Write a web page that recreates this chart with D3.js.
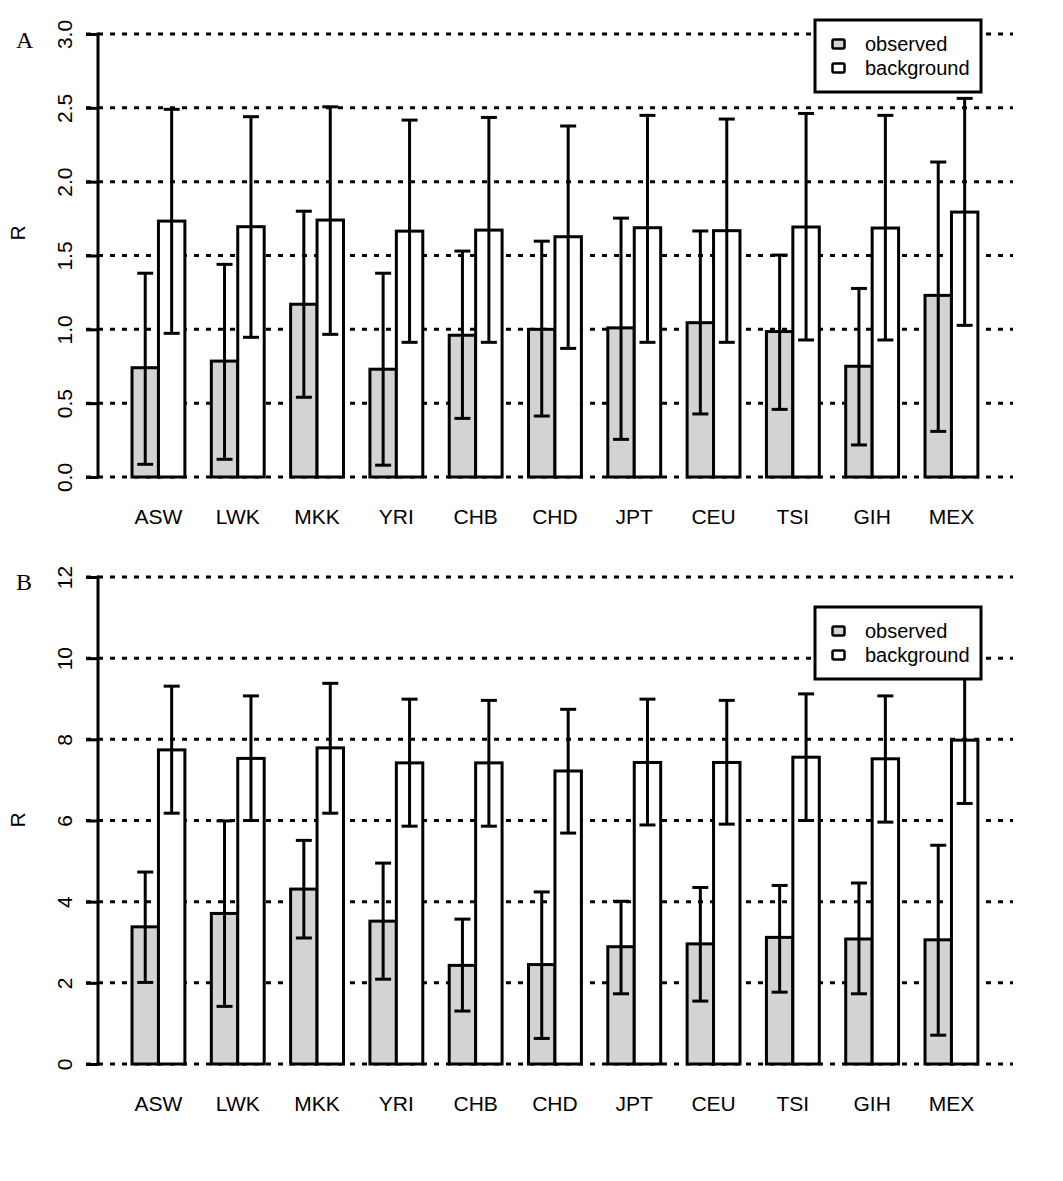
<!DOCTYPE html>
<html>
<head>
<meta charset="utf-8">
<script src="https://cdn.jsdelivr.net/npm/d3@7"></script>
<style>
  body { margin: 0; background: #fff; }
</style>
</head>
<body>
<div id="chart"></div>
<script>
var populations = ["ASW","LWK","MKK","YRI","CHB","CHD","JPT","CEU","TSI","GIH","MEX"];
var series = ["observed","background"];
var seriesFill = ["#d3d3d3","#ffffff"];

// panel A
var obsA   = [0.74, 0.785, 1.17, 0.73, 0.96, 1.00, 1.01, 1.045, 0.985, 0.75, 1.23];
var obsALo = [0.086, 0.12, 0.54, 0.08, 0.397, 0.413, 0.255, 0.427, 0.458, 0.217, 0.309];
var obsAHi = [1.38, 1.44, 1.80, 1.38, 1.53, 1.597, 1.753, 1.666, 1.503, 1.277, 2.133];
var bgA    = [1.733, 1.695, 1.74, 1.665, 1.672, 1.627, 1.688, 1.668, 1.693, 1.686, 1.794];
var bgALo  = [0.973, 0.946, 0.966, 0.912, 0.912, 0.871, 0.912, 0.912, 0.928, 0.928, 1.027];
var bgAHi  = [2.49, 2.44, 2.507, 2.417, 2.435, 2.377, 2.449, 2.424, 2.462, 2.449, 2.564];
var ticksA = [0, 0.5, 1.0, 1.5, 2.0, 2.5, 3.0];

// panel B
var obsB   = [3.38, 3.71, 4.31, 3.52, 2.43, 2.45, 2.89, 2.96, 3.12, 3.08, 3.06];
var obsBLo = [2.01, 1.42, 3.105, 2.09, 1.305, 0.63, 1.73, 1.55, 1.77, 1.73, 0.71];
var obsBHi = [4.73, 5.99, 5.51, 4.95, 3.57, 4.24, 4.01, 4.35, 4.40, 4.46, 5.39];
var bgB    = [7.74, 7.53, 7.79, 7.42, 7.42, 7.22, 7.43, 7.43, 7.56, 7.52, 7.98];
var bgBLo  = [6.18, 6.00, 6.18, 5.86, 5.86, 5.69, 5.89, 5.91, 6.00, 5.96, 6.42];
var bgBHi  = [9.31, 9.07, 9.38, 8.99, 8.96, 8.74, 8.99, 8.96, 9.12, 9.07, 9.6];
var ticksB = [0, 2, 4, 6, 8, 10, 12];

var W = 1063, H = 1181;
var lw = 3;
var capHalf = 8;
var sans = "Liberation Sans, Arial, sans-serif";

var svg = d3.select("#chart").append("svg")
  .attr("width", W).attr("height", H)
  .attr("font-family", sans);
svg.append("rect").attr("width", W).attr("height", H).attr("fill", "#fff");

var x = d3.scaleBand()
  .domain(populations)
  .range([118.8, 991.1])
  .paddingInner(1/3)
  .paddingOuter(1/6);
var xs = d3.scaleBand().domain(series).range([0, x.bandwidth()]);

function drawPanel(p) {
  var y = d3.scaleLinear().domain([0, p.max]).range([p.bottom, p.top]);
  var g = svg.append("g");

  // dotted grid
  g.selectAll(".grid").data(p.ticks).enter().append("line")
    .attr("x1", 86).attr("x2", 1013)
    .attr("y1", d => y(d)).attr("y2", d => y(d))
    .attr("stroke", "#000").attr("stroke-width", lw)
    .attr("stroke-dasharray", "5,7");

  // axis
  var axis = d3.axisLeft(y).tickValues(p.ticks).tickSize(12).tickFormat(p.fmt);
  var ag = g.append("g").attr("transform", "translate(98,0)").call(axis);
  ag.attr("font-family", sans).attr("font-size", 21);
  ag.select(".domain").attr("d", "M0," + y(0) + "V" + y(p.max))
    .attr("stroke-width", lw).attr("stroke-linecap", "square");
  ag.selectAll(".tick line").attr("stroke-width", lw);
  ag.selectAll(".tick text")
    .attr("x", null).attr("dy", null)
    .attr("transform", "translate(-26,0) rotate(-90)")
    .attr("text-anchor", "middle")
    .attr("fill", "#000");

  // bars
  var rows = populations.map((c, i) => ({
    pop: c,
    vals: [
      {s: "observed", v: p.obs[i], lo: p.obsLo[i], hi: p.obsHi[i]},
      {s: "background", v: p.bg[i], lo: p.bgLo[i], hi: p.bgHi[i]}
    ]
  }));
  var grp = g.selectAll(".grp").data(rows).enter().append("g")
    .attr("transform", d => "translate(" + x(d.pop) + ",0)");
  grp.selectAll("rect").data(d => d.vals).enter().append("rect")
    .attr("x", d => xs(d.s))
    .attr("width", xs.bandwidth())
    .attr("y", d => y(d.v))
    .attr("height", d => y(0) - y(d.v))
    .attr("fill", d => seriesFill[series.indexOf(d.s)])
    .attr("stroke", "#000").attr("stroke-width", lw);

  // error bars
  var eb = grp.selectAll(".eb").data(d => d.vals).enter().append("g")
    .attr("transform", d => "translate(" + (xs(d.s) + xs.bandwidth() / 2) + ",0)")
    .attr("stroke", "#000").attr("stroke-width", lw);
  eb.append("line").attr("y1", d => y(d.lo)).attr("y2", d => y(d.hi));
  eb.append("line").attr("x1", -capHalf).attr("x2", capHalf)
    .attr("y1", d => y(d.lo)).attr("y2", d => y(d.lo));
  eb.append("line").attr("x1", -capHalf).attr("x2", capHalf)
    .attr("y1", d => y(d.hi)).attr("y2", d => y(d.hi));

  // category labels
  g.selectAll(".cat").data(populations).enter().append("text")
    .attr("x", d => x(d) + x.bandwidth() / 2)
    .attr("y", p.bottom + 47)
    .attr("text-anchor", "middle")
    .attr("font-size", 21)
    .text(d => d);

  // y label and panel letter
  g.append("text")
    .attr("transform", "translate(25," + p.rY + ") rotate(-90)")
    .attr("text-anchor", "middle").attr("font-size", 21).text("R");
  g.append("text")
    .attr("x", 16).attr("y", p.top + p.letterDy)
    .attr("font-family", "Liberation Serif, Times New Roman, serif")
    .attr("font-size", 24).text(p.letter);

  // legend
  var lg = g.append("g").attr("transform", "translate(815," + p.legTop + ")");
  lg.append("rect").attr("width", 166).attr("height", p.legH)
    .attr("fill", "#fff").attr("stroke", "#000").attr("stroke-width", lw);
  var li = lg.selectAll(".li").data(series).enter().append("g")
    .attr("transform", (d, i) => "translate(0," + (p.legH / 2 - 12 + i * 24) + ")");
  li.append("rect").attr("x", 17.5).attr("y", -4.5).attr("width", 12).attr("height", 9)
    .attr("rx", 1.5)
    .attr("fill", (d, i) => seriesFill[i]).attr("stroke", "#000").attr("stroke-width", 2.5);
  li.append("text").attr("x", 50).attr("y", 7).attr("font-size", 20).text(d => d);
}

drawPanel({
  letter: "A", top: 34, bottom: 477, max: 3, ticks: ticksA, fmt: d3.format(".1f"),
  obs: obsA, obsLo: obsALo, obsHi: obsAHi, bg: bgA, bgLo: bgALo, bgHi: bgAHi,
  rY: 233, letterDy: 14, legTop: 20, legH: 72
});
drawPanel({
  letter: "B", top: 577, bottom: 1064, max: 12, ticks: ticksB, fmt: d3.format("d"),
  obs: obsB, obsLo: obsBLo, obsHi: obsBHi, bg: bgB, bgLo: bgBLo, bgHi: bgBHi,
  rY: 820, letterDy: 13, legTop: 607, legH: 72
});
</script>
</body>
</html>
